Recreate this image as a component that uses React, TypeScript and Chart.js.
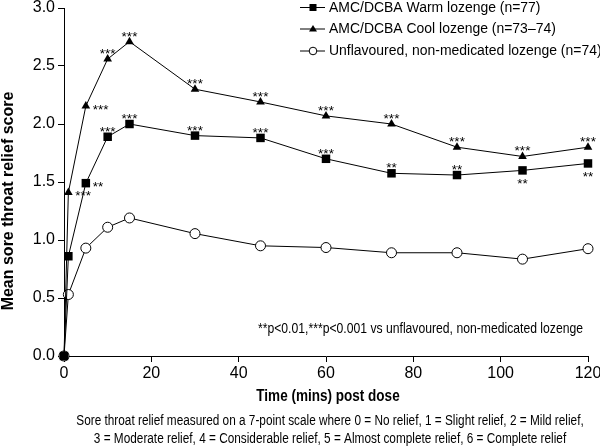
import React, { useEffect, useRef } from "react";
import { Chart, registerables } from "chart.js";

Chart.register(...registerables);

// ---- Data ----
const times = [0, 1, 5, 10, 15, 30, 45, 60, 75, 90, 105, 120];
const warmValues = [0, 0.86, 1.49, 1.89, 2.0, 1.9, 1.88, 1.7, 1.575, 1.56, 1.6, 1.66];
const coolValues = [0, 1.41, 2.155, 2.56, 2.71, 2.3, 2.19, 2.07, 2.0, 1.8, 1.72, 1.8];
const placeboValues = [0, 0.53, 0.93, 1.11, 1.19, 1.055, 0.95, 0.935, 0.89, 0.89, 0.835, 0.925];

const warmStars = ["", "", "**", "***", "***", "***", "***", "***", "**", "**", "**", "**"];
const warmStarPos = ["", "", "right", "above", "above", "above", "above", "above", "above", "above", "below", "below"];
const coolStars = ["", "***", "***", "***", "***", "***", "***", "***", "***", "***", "***", "***"];
const coolStarPos = ["", "right", "right", "above", "above", "above", "above", "above", "above", "above", "above", "above"];

const seriesLabels = [
  "AMC/DCBA Warm lozenge (n=77)",
  "AMC/DCBA Cool lozenge (n=73\u201374)",
  "Unflavoured, non-medicated lozenge (n=74)",
];
const xTicks = [0, 20, 40, 60, 80, 100, 120];
const yTicks = [0, 0.5, 1, 1.5, 2, 2.5, 3];
const xTitle = "Time (mins) post dose";
const yTitle = "Mean sore throat relief score";
const footnote = "**p<0.01,***p<0.001 vs unflavoured, non-medicated lozenge";
const captionLines = [
  "Sore throat relief measured on a 7-point scale where 0 = No relief, 1 = Slight relief, 2 = Mild relief,",
  "3 = Moderate relief, 4 = Considerable relief, 5 = Almost complete relief, 6 = Complete relief",
];

const SANS = '"Liberation Sans", Arial, Helvetica, sans-serif';

function narrowText(
  ctx: CanvasRenderingContext2D,
  text: string,
  x: number,
  y: number,
  font: string,
  align: CanvasTextAlign,
  baseline: CanvasTextBaseline,
  sx: number
) {
  ctx.save();
  ctx.font = font;
  ctx.textAlign = align;
  ctx.textBaseline = baseline;
  ctx.translate(x, y);
  ctx.scale(sx, 1);
  ctx.fillText(text, 0, 0);
  ctx.restore();
}

const annotationPlugin = {
  id: "annotations",
  afterDraw(chart: any) {
    const ctx = chart.ctx as CanvasRenderingContext2D;
    const xs = chart.scales.x;
    const ys = chart.scales.y;
    ctx.save();
    ctx.fillStyle = "#000";
    ctx.strokeStyle = "#000";

    // significance stars
    ctx.font = `13.5px ${SANS}`;
    const drawStars = (vals: number[], stars: string[], pos: string[]) => {
      vals.forEach((v, i) => {
        const s = stars[i];
        if (!s) return;
        const px = xs.getPixelForValue(times[i]);
        const py = ys.getPixelForValue(v);
        ctx.textBaseline = "alphabetic";
        if (pos[i] === "right") {
          ctx.textAlign = "left";
          ctx.fillText(s, px + 7, py + 7.6);
        } else if (pos[i] === "below") {
          ctx.textAlign = "center";
          ctx.fillText(s, px, py + 17.6);
        } else {
          ctx.textAlign = "center";
          ctx.fillText(s, px, py - 1);
        }
      });
    };
    drawStars(warmValues, warmStars, warmStarPos);
    drawStars(coolValues, coolStars, coolStarPos);

    // legend
    const lx0 = 300, lx1 = 325, lxm = 313, tx = 329;
    const rows = [7.5, 29, 51];
    ctx.lineWidth = 1;
    rows.forEach((ry, i) => {
      ctx.beginPath();
      ctx.moveTo(lx0, ry);
      ctx.lineTo(lx1, ry);
      ctx.stroke();
      if (i === 0) {
        ctx.fillRect(lxm - 3.5, ry - 3.5, 7, 7);
      } else if (i === 1) {
        ctx.beginPath();
        ctx.moveTo(lxm, ry - 4);
        ctx.lineTo(lxm + 4, ry + 2.5);
        ctx.lineTo(lxm - 4, ry + 2.5);
        ctx.closePath();
        ctx.fill();
      } else {
        ctx.beginPath();
        ctx.arc(lxm, ry, 3.8, 0, Math.PI * 2);
        ctx.fillStyle = "#fff";
        ctx.fill();
        ctx.stroke();
        ctx.fillStyle = "#000";
      }
      narrowText(ctx, seriesLabels[i], tx, ry, `15.5px ${SANS}`, "left", "middle", 0.9);
    });

    // footnote
    narrowText(ctx, footnote, 583, 333, `14.5px ${SANS}`, "right", "alphabetic", 0.84);

    // x title
    narrowText(ctx, xTitle, 328, 396, `bold 16.5px ${SANS}`, "center", "middle", 0.82);

    // caption
    narrowText(ctx, captionLines[0], 330, 421, `14px ${SANS}`, "center", "middle", 0.843);
    narrowText(ctx, captionLines[1], 330, 439, `14px ${SANS}`, "center", "middle", 0.843);

    // y title
    ctx.save();
    ctx.translate(9, 201);
    ctx.rotate(-Math.PI / 2);
    ctx.font = `bold 16px ${SANS}`;
    ctx.textAlign = "center";
    ctx.textBaseline = "middle";
    ctx.fillText(yTitle, 0, 0);
    ctx.restore();

    ctx.restore();
  },
};

export default function App() {
  const canvasRef = useRef<HTMLCanvasElement | null>(null);

  useEffect(() => {
    document.body.style.margin = "0";
    const canvas = canvasRef.current;
    if (!canvas) return;
    const mk = (vals: number[]) => times.map((t, i) => ({ x: t, y: vals[i] }));
    const chart = new Chart(canvas, {
      type: "line",
      data: {
        datasets: [
          {
            label: seriesLabels[0],
            data: mk(warmValues),
            borderColor: "#000",
            backgroundColor: "#000",
            borderWidth: 1,
            pointStyle: "rect",
            pointRadius: 6,
            pointBorderWidth: 0,
            pointBackgroundColor: "#000",
            clip: false,
          },
          {
            label: seriesLabels[1],
            data: mk(coolValues),
            borderColor: "#000",
            backgroundColor: "#000",
            borderWidth: 1,
            pointStyle: "triangle",
            pointRadius: 5,
            pointBorderWidth: 0,
            pointBackgroundColor: "#000",
            clip: false,
          },
          {
            label: seriesLabels[2],
            data: mk(placeboValues),
            borderColor: "#000",
            backgroundColor: "#fff",
            borderWidth: 1,
            pointStyle: "circle",
            pointRadius: 5,
            pointBorderWidth: 1,
            pointBackgroundColor: "#fff",
            pointBorderColor: "#000",
            clip: false,
          },
        ],
      } as any,
      options: {
        responsive: false,
        animation: false,
        devicePixelRatio: 1,
        layout: { padding: { left: 0, right: 12, top: 8, bottom: 0 } },
        plugins: { legend: { display: false }, tooltip: { enabled: false } },
        elements: { line: { tension: 0 } },
        scales: {
          x: {
            type: "linear",
            min: 0,
            max: 120,
            afterBuildTicks: (s: any) => {
              s.ticks = xTicks.map((v) => ({ value: v }));
            },
            afterFit: (s: any) => {
              s.height = 91;
              s.paddingLeft = 0;
              s.paddingRight = 0;
            },
            ticks: {
              color: "#000",
              font: { family: SANS, size: 16 },
              padding: 2,
              maxRotation: 0,
              autoSkip: false,
            },
            grid: { drawOnChartArea: false, drawTicks: true, tickLength: 6, color: "#000" },
            border: { color: "#000", width: 1 },
          },
          y: {
            type: "linear",
            min: 0,
            max: 3,
            afterBuildTicks: (s: any) => {
              s.ticks = yTicks.map((v) => ({ value: v }));
            },
            afterFit: (s: any) => {
              s.width = 64;
              s.paddingTop = 0;
              s.paddingBottom = 0;
            },
            ticks: {
              color: "#000",
              font: { family: SANS, size: 16 },
              padding: 3,
              autoSkip: false,
              callback: (v: any) => Number(v).toFixed(1),
            },
            grid: { drawOnChartArea: false, drawTicks: true, tickLength: 6, color: "#000" },
            border: { color: "#000", width: 1 },
          },
        },
      } as any,
      plugins: [annotationPlugin],
    });
    return () => chart.destroy();
  }, []);

  return (
    <div style={{ width: 600, height: 447, background: "#fff" }}>
      <canvas ref={canvasRef} width={600} height={447} style={{ display: "block" }} />
    </div>
  );
}
